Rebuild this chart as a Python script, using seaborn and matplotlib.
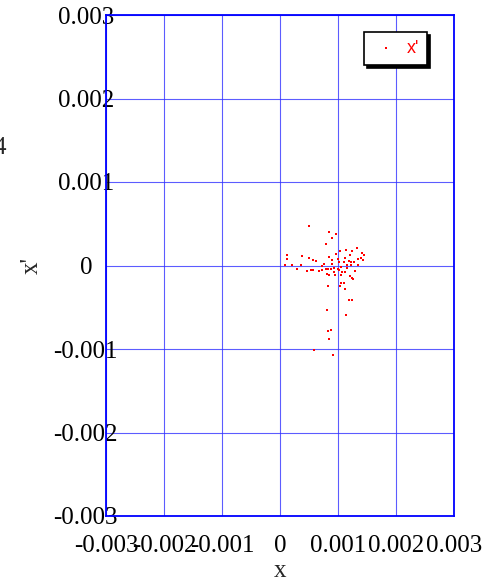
import matplotlib
matplotlib.use("Agg")
import matplotlib.pyplot as plt
import seaborn as sns
import pandas as pd

# data (x, x')
x_vals = [0.000503, 0.000838, 0.000960, 0.000890, 0.000798, 0.001324, 0.001133, 0.001237,
          0.001040, 0.000971, 0.001422, 0.001451, 0.001214, 0.000127, 0.000381, 0.000844,
          0.001127, 0.001393, 0.001341, 0.000497, 0.000121, 0.000561, 0.000618, 0.000902,
          0.001185, 0.001272, 0.001434, 0.001017, 0.001110, 0.001220, 0.001353, 0.000994,
          0.000087, 0.000208, 0.000364, 0.000757, 0.000728, 0.000890, 0.001058, 0.001150,
          0.001225, 0.001341, 0.001000, 0.001162, 0.000295, 0.000567, 0.000538, 0.000468,
          0.000676, 0.000728, 0.000798, 0.000826, 0.000931, 0.000879, 0.000936, 0.001012,
          0.001075, 0.001121, 0.001295, 0.000809, 0.000844, 0.000954, 0.001052, 0.001214,
          0.001243, 0.001254, 0.000832, 0.001058, 0.001110, 0.001040, 0.001127, 0.001191,
          0.001243, 0.000815, 0.001144, 0.000873, 0.000832, 0.000850, 0.000584, 0.000913]
xp_vals = [0.000478, 0.000403, 0.000379, 0.000327, 0.000263, 0.000215, 0.000187, 0.000179,
           0.000171, 0.000143, 0.000147, 0.000131, 0.000128, 0.000120, 0.000108, 0.000096,
           0.000088, 0.000088, 0.000080, 0.000088, 0.000080, 0.000064, 0.000048, 0.000060,
           0.000052, 0.000044, 0.000060, 0.000036, 0.000040, 0.000036, 0.000072, 0.000072,
           0.000004, 0.000004, 0.000004, 0.000012, -0.000004, 0.000012, -0.000016, 0.000004,
           0.000004, 0.000004, -0.000044, -0.000032, -0.000044, -0.000048, -0.000056, -0.000068,
           -0.000064, -0.000056, -0.000036, -0.000036, -0.000032, -0.000040, -0.000072, -0.000056,
           -0.000072, -0.000080, -0.000068, -0.000096, -0.000108, -0.000116, -0.000108, -0.000131,
           -0.000147, -0.000167, -0.000243, -0.000215, -0.000215, -0.000247, -0.000287, -0.000414,
           -0.000414, -0.000534, -0.000590, -0.000769, -0.000781, -0.000884, -0.001008, -0.001072]

x_ticks = [-0.003, -0.002, -0.001, 0, 0.001, 0.002, 0.003]
x_tick_labels = ["-0.003", "-0.002", "-0.001", "0", "0.001", "0.002", "0.003"]
y_ticks = [-0.003, -0.002, -0.001, 0, 0.001, 0.002, 0.003]
y_tick_labels = ["-0.003", "-0.002", "-0.001", "0", "0.001", "0.002", "0.003"]

df = pd.DataFrame({"x": x_vals, "xp": xp_vals})

sns.set_style("white")
plt.rcParams["font.family"] = ["Liberation Serif", "DejaVu Serif"]
plt.rcParams["axes.unicode_minus"] = False

W, H = 503, 582
fig = plt.figure(figsize=(W / 100, H / 100), dpi=100)
L, R, T, B = 106, 454, 15, 516
ax = fig.add_axes([L / W, 1 - B / H, (R - L) / W, (B - T) / H])

sns.scatterplot(data=df, x="x", y="xp", ax=ax, color="red", marker="s", s=3,
                linewidth=0, label="x'", zorder=3)

ax.set_xlim(-0.003, 0.003)
ax.set_ylim(-0.003, 0.003)
ax.set_xticks(x_ticks)
ax.set_xticklabels(x_tick_labels)
ax.set_yticks(y_ticks)
ax.set_yticklabels(y_tick_labels)
ax.tick_params(length=0, labelsize=18, colors="black")
ax.tick_params(axis="x", pad=14)
ax.tick_params(axis="y", pad=14.5)
for lab in ax.get_yticklabels():
    lab.set_horizontalalignment("center")
ax.grid(True, color="#3333ff", linewidth=0.8, alpha=0.8)
ax.set_axisbelow(True)
for sp in ax.spines.values():
    sp.set_color("blue")
    sp.set_linewidth(1.3)
    sp.set_visible(True)

ax.set_xlabel("x", fontsize=18, labelpad=2)
ax.set_ylabel("x'", fontsize=18, labelpad=8)

leg = ax.legend(loc="upper right", bbox_to_anchor=(0.922, 0.966), borderaxespad=0,
                frameon=True, fancybox=False, shadow={"color": "black", "alpha": 1},
                prop={"family": "Liberation Sans", "size": 13},
                handletextpad=0.3, borderpad=0.45, handlelength=1.6, markerscale=1)
leg.get_frame().set_edgecolor("black")
leg.get_frame().set_linewidth(1.2)
for t in leg.get_texts():
    t.set_color("red")

fig.text(-6 / W, 1 - 148 / H, "4", fontsize=18, ha="left", va="center")

fig.savefig("out.png", dpi=100)
